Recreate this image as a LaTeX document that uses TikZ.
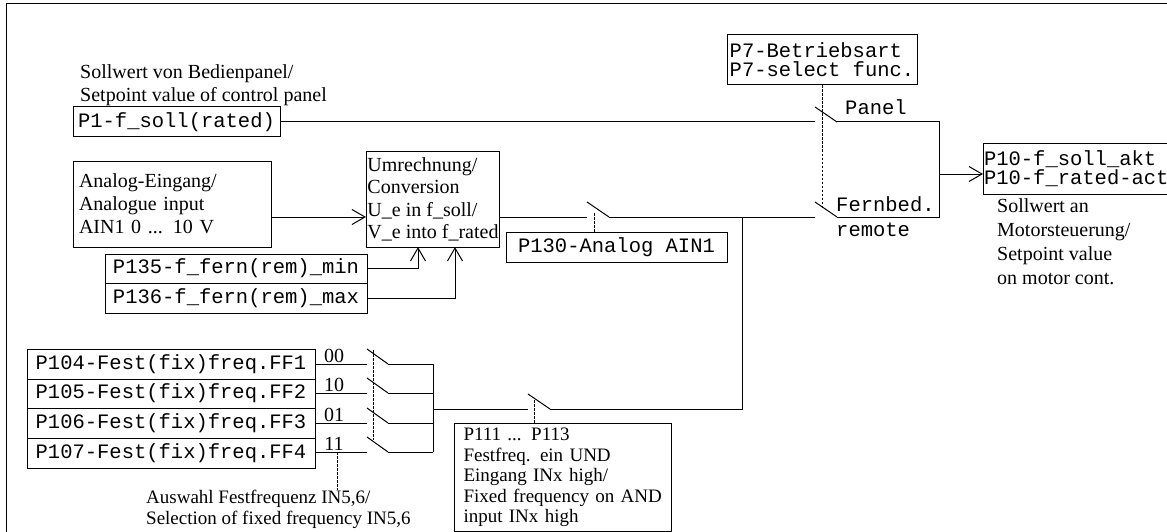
\documentclass[tikz,border=0pt]{standalone}
\usepackage{fontspec}
\setmainfont{Liberation Serif}
\setmonofont{Liberation Mono}
\usetikzlibrary{arrows.meta}
\begin{document}
\begin{tikzpicture}[x=1pt,y=-1pt,
  wire/.style={line width=1pt},
  ctrl/.style={line width=0.6pt, dash pattern=on 2.5pt off 1.5pt},
  box/.style={draw, line width=1pt, inner sep=0pt},
  mono/.style={font=\ttfamily\fontsize{20.5}{19}\selectfont},
  serif/.style={font=\fontsize{20}{23}\selectfont},
  small/.style={font=\fontsize{19}{20.5}\selectfont},
  lbl/.style={inner sep=0pt, anchor=west},
  into/.style={-{Straight Barb[length=13pt,width=15pt,line width=1pt]}}]
\useasboundingbox (0,0) rectangle (1167,532);

% outer frame
\draw[line width=1pt] (6,540) -- (6,4) -- (1180,4);

% ---- parameter boxes ----
\node[lbl, serif, align=left] (lpanel) at (80,85) {Sollwert von Bedienpanel/\\Setpoint value of control panel};
\node[box, mono, minimum width=207pt, minimum height=30pt] (p1) at (176.5,122) {P1-f\_soll(rated)};

\node[box, mono, align=left, minimum width=190pt, minimum height=50pt] (p7) at (822,60) {P7-Betriebsart\\P7-select func.};

\node[box, mono, align=left, inner xsep=0.5pt, minimum height=50pt, anchor=west] (p10) at (983,169) {P10-f\_soll\_akt\\P10-f\_rated-act};
\node[lbl, serif, align=left, font=\fontsize{20}{24}\selectfont] (lout) at (997,241.5) {Sollwert an\\Motorsteuerung/\\Setpoint value\\on motor cont.};

\node[box, serif, align=left, text width=186pt, inner xsep=6pt, minimum height=86pt] (ain) at (172,204) {Analog-Eingang/\\Analogue input\\AIN1 0 ... 10 V};
\node[box, serif, align=left, font=\fontsize{20}{22.5}\selectfont, inner xsep=1pt, minimum width=132pt, minimum height=95pt] (conv) at (433,199.5) {Umrechnung/\\Conversion\\U\_e in f\_soll/\\V\_e into f\_rated};

\node[box, mono, minimum width=221pt, minimum height=30pt] (p130) at (616.5,247) {P130-Analog AIN1};
\node[box, mono, minimum width=262pt, minimum height=29pt] (p135) at (236,268.5) {P135-f\_fern(rem)\_min};
\node[box, mono, minimum width=262pt, minimum height=30pt] (p136) at (236,298) {P136-f\_fern(rem)\_max};

\node[box, mono, minimum width=288pt, minimum height=30pt] (ff1) at (171,364) {P104-Fest(fix)freq.FF1};
\node[box, mono, minimum width=288pt, minimum height=29pt] (ff2) at (171,393.5) {P105-Fest(fix)freq.FF2};
\node[box, mono, minimum width=288pt, minimum height=30pt] (ff3) at (171,423) {P106-Fest(fix)freq.FF3};
\node[box, mono, minimum width=288pt, minimum height=30pt] (ff4) at (171,453) {P107-Fest(fix)freq.FF4};

\node[serif, inner sep=0pt, anchor=base] (c00) at (334,362) {00};
\node[serif, inner sep=0pt, anchor=base] (c10) at (334,391) {10};
\node[serif, inner sep=0pt, anchor=base] (c01) at (334,421) {01};
\node[serif, inner sep=0pt, anchor=base] (c11) at (334,450) {11};

\node[lbl, small, align=left] (lsel) at (146,509.5) {Auswahl Festfrequenz IN5,6/\\Selection of fixed frequency IN5,6};

\node[box, small, align=left, text width=199pt, inner xsep=9pt, minimum height=108pt, anchor=north west] (p111) at (454,423) {P111 ... P113\\Festfreq. ein UND\\Eingang INx high/\\Fixed frequency on AND\\input INx high};

% switch labels
\node[lbl, mono] (tpanel) at (845,107) {Panel};
\node[lbl, mono] (tfern) at (836,204) {Fernbed.};
\node[lbl, mono] (trem) at (836,230) {remote};

% ---- switch contact points ----
\coordinate (pA) at (815,122);  \coordinate (pB) at (837,122);
\coordinate (rA) at (815,217);  \coordinate (rB) at (837,217);
\coordinate (sum) at (939,174);
\coordinate (aA) at (587,217);  \coordinate (aB) at (609,217);
\coordinate (jn) at (742,217);
\coordinate (fA) at (528,409);  \coordinate (fB) at (550,409);
\coordinate (busT) at (433,364); \coordinate (busB) at (433,452);
\coordinate (k1) at (367,364); \coordinate (k2) at (367,393);
\coordinate (k3) at (367,423); \coordinate (k4) at (367,452);
\coordinate (m1) at (388,364); \coordinate (m2) at (388,393);
\coordinate (m3) at (388,423); \coordinate (m4) at (388,452);

% panel / remote selector
\draw[wire] (p1.east) -- (pA);
\draw[wire] (pA) ++(0,-15) -- (pB);
\draw[wire] (rA) ++(0,-15) -- (rB);
\draw[wire] (pB) -- (pB -| sum) -- (rB -| sum) -- (rB);
\draw[wire, into] (sum) -- (p10.west |- sum);

% analogue path
\draw[wire, into] (ain.east |- aA) -- (conv.west |- aA);
\draw[wire, into] (p135.east) -| (418,247);
\draw[wire, into] (p136.east) -| (455,247);
\draw[wire] (conv.east |- aA) -- (aA);
\draw[wire] (aA) ++(0,-15) -- (aB);
\draw[wire] (aB) -- (rA);

% fixed frequency path
\draw[wire] (ff1.east) -- (k1);
\draw[wire] (ff2.east |- k2) -- (k2);
\draw[wire] (ff3.east) -- (k3);
\draw[wire] (ff4.east |- k4) -- (k4);
\draw[wire] (k1) ++(0,-15) -- (m1);
\draw[wire] (k2) ++(0,-15) -- (m2);
\draw[wire] (k3) ++(0,-15) -- (m3);
\draw[wire] (k4) ++(0,-15) -- (m4);
\draw[wire] (m1) -- (busT |- m1);
\draw[wire] (m2) -- (busT |- m2);
\draw[wire] (m3) -- (busT |- m3);
\draw[wire] (m4) -- (busT |- m4);
\draw[wire] (busT) -- (busB);
\draw[wire] (busT |- fA) -- (fA);
\draw[wire] (fA) ++(0,-15) -- (fB);
\draw[wire] (fB) -- (fB -| jn) -- (jn);

% control links of the switches
\coordinate (d7) at (822,208);
\draw[ctrl] (p7.south) -- (d7);
\coordinate (d130) at (594,213);
\draw[ctrl] (d130) -- (d130 |- p130.north);
\coordinate (dffT) at (373,350); \coordinate (dffB) at (373,440);
\draw[ctrl] (dffT) -- (dffB);
\coordinate (dsel) at (337,452);
\draw[ctrl] (dsel) -- (dsel |- lsel.north);
\coordinate (d111) at (534,400);
\draw[ctrl] (d111) -- (d111 |- p111.north);
\end{tikzpicture}
\end{document}
